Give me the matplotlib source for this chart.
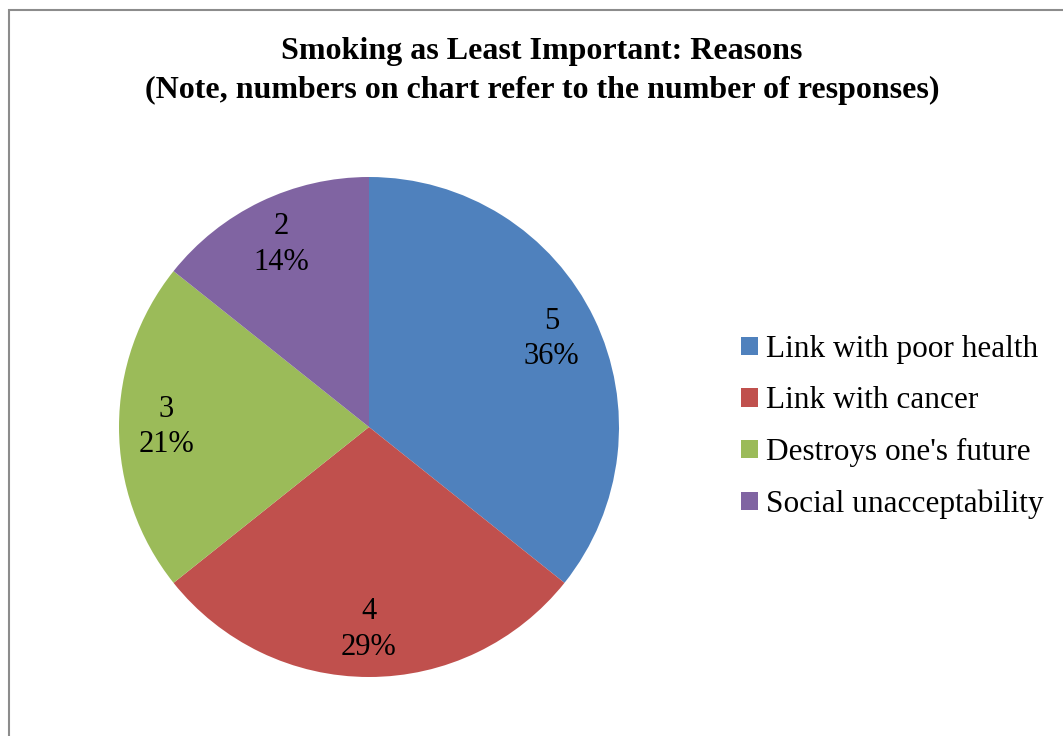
import matplotlib.pyplot as plt
from matplotlib.patches import Rectangle, Patch

# дані діаграми
labels = ["Link with poor health", "Link with cancer", "Destroys one's future", "Social unacceptability"]
counts = [5, 4, 3, 2]
colors = ["#4f81bd", "#c0504d", "#9bbb59", "#8064a2"]

plt.rcParams['font.family'] = ['Liberation Serif', 'DejaVu Serif']


def make_label(pct):
    # число відповідей та відсоток
    n = int(round(pct * sum(counts) / 100.0))
    return "%d\n%d%%" % (n, round(pct))


def main():
    fig = plt.figure(figsize=(10.63, 7.36), dpi=100)

    # рамка навколо діаграми
    fig.patches.append(Rectangle((9 / 1063, -0.1), 1.2, 1 - 10 / 736 + 0.1,
                                 transform=fig.transFigure, fill=False,
                                 edgecolor="#8c8c8c", lw=1.5))

    fig.text(542 / 1063, 1 - 52 / 736, "Smoking as Least Important: Reasons",
             ha="center", va="center", fontsize=23, fontweight="bold")
    fig.text(542 / 1063, 1 - 90 / 736,
             "(Note, numbers on chart refer to the number of responses)",
             ha="center", va="center", fontsize=23, fontweight="bold")

    ax = fig.add_axes([119 / 1063, 59 / 736, 500 / 1063, 500 / 736])
    wedges, texts, autotexts = ax.pie(counts, colors=colors, startangle=90,
                                      counterclock=False, autopct=make_label,
                                      pctdistance=0.81,
                                      textprops={"fontsize": 22, "linespacing": 1.3})
    ax.set_xlim(-1, 1)
    ax.set_ylim(-1, 1)
    ax.set_aspect("equal")

    handles = [Patch(facecolor=c, edgecolor="none") for c in colors]
    fig.legend(handles, labels, loc="center left",
               bbox_to_anchor=(741 / 1063, 1 - 427 / 736), frameon=False,
               fontsize=22.5, handlelength=0.55, handleheight=0.55,
               handletextpad=0.25, labelspacing=0.72, borderpad=0, borderaxespad=0)

    plt.savefig("out.png")


if __name__ == "__main__":
    main()
